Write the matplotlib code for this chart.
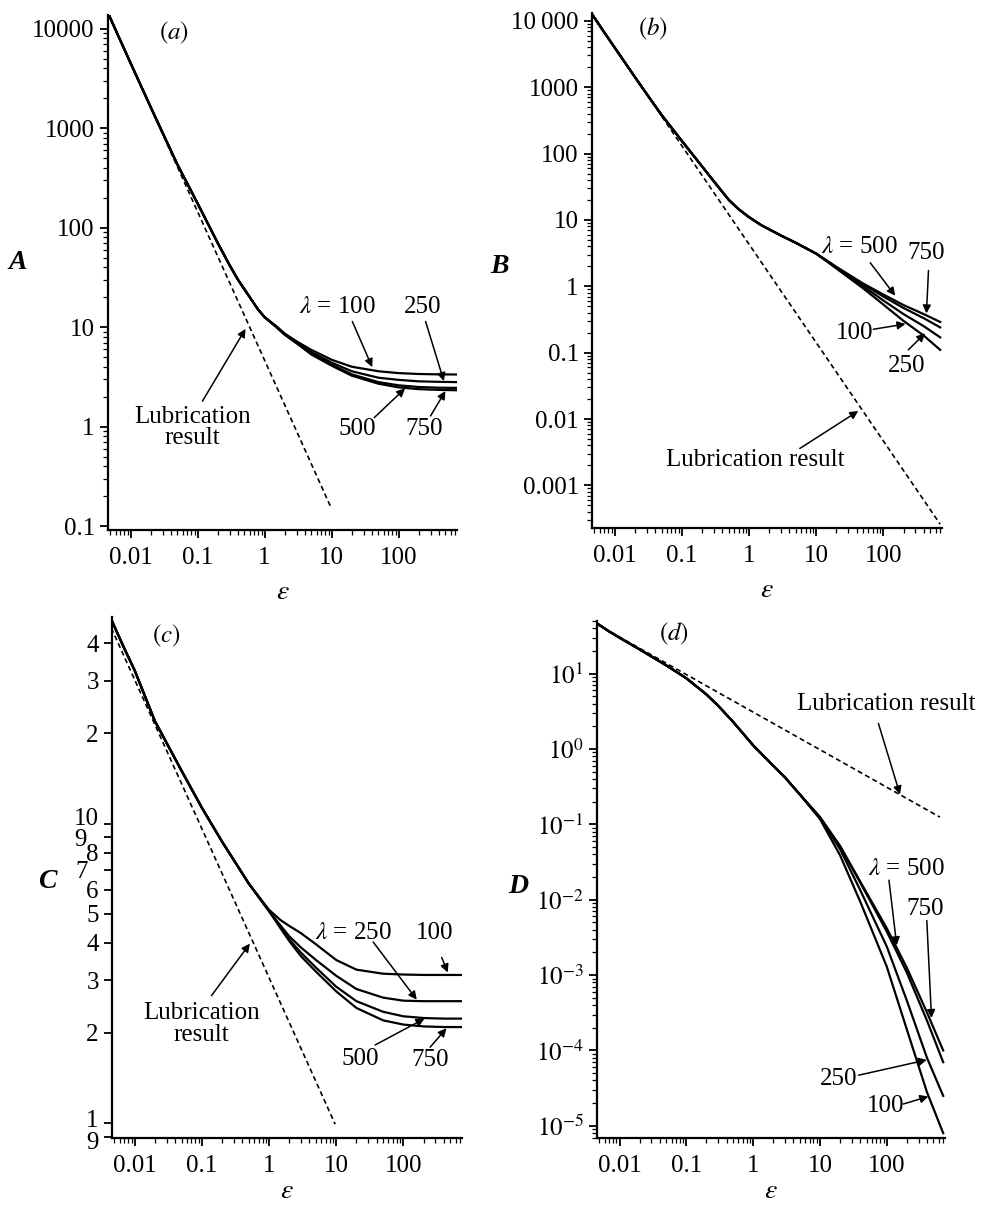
import matplotlib
matplotlib.use('Agg')
import matplotlib.pyplot as plt
import matplotlib.ticker as ticker
from matplotlib.transforms import ScaledTranslation
import numpy as np

plt.rcParams['font.family'] = ['Liberation Serif', 'DejaVu Serif']
plt.rcParams['mathtext.fontset'] = 'stix'

# ---- panel (a): A vs epsilon ----
eps_a = [0.00475, 0.007, 0.01, 0.02, 0.03, 0.05, 0.1, 0.2, 0.3, 0.4, 0.6, 0.8, 1,
         1.5, 2, 3, 5, 10, 20, 50, 100, 200, 400, 742]
A_100 = [13700, 7650, 4500, 1620, 900, 430, 175, 70, 42, 30, 20, 15, 12.6,
         10.2, 8.6, 7.2, 5.9, 4.7, 4.0, 3.6, 3.45, 3.38, 3.35, 3.34]
A_250 = [13700, 7650, 4500, 1620, 900, 430, 175, 70, 42, 30, 20, 15, 12.6,
         10.1, 8.5, 7.0, 5.6, 4.4, 3.6, 3.1, 2.95, 2.85, 2.82, 2.8]
A_500 = [13700, 7650, 4500, 1620, 900, 430, 175, 70, 42, 30, 20, 15, 12.6,
         10.0, 8.4, 6.9, 5.4, 4.2, 3.35, 2.8, 2.6, 2.5, 2.46, 2.45]
A_750 = [13700, 7650, 4500, 1620, 900, 430, 175, 70, 42, 30, 20, 15, 12.6,
         10.0, 8.4, 6.9, 5.3, 4.1, 3.25, 2.7, 2.48, 2.38, 2.34, 2.32]
lub_a_eps = [0.00475, 9.66]
lub_a = [13700, 0.157]

# ---- panel (b): B vs epsilon ----
eps_b = [0.0045, 0.007, 0.01, 0.02, 0.03, 0.05, 0.1, 0.2, 0.3, 0.5, 0.7, 1, 1.5,
         2, 3, 5, 10, 20, 50, 100, 200, 400, 700]
B_100 = [13000, 6700, 3950, 1420, 790, 380, 155, 64, 38, 20, 14.5, 11, 8.4,
         7.2, 5.8, 4.5, 3.1, 1.85, 0.93, 0.53, 0.30, 0.18, 0.11]
B_250 = [13000, 6700, 3950, 1420, 790, 380, 155, 64, 38, 20, 14.5, 11, 8.4,
         7.2, 5.8, 4.5, 3.1, 1.9, 1.0, 0.61, 0.38, 0.25, 0.17]
B_500 = [13000, 6700, 3950, 1420, 790, 380, 155, 64, 38, 20, 14.5, 11, 8.4,
         7.2, 5.8, 4.5, 3.1, 1.95, 1.07, 0.70, 0.47, 0.33, 0.24]
B_750 = [13000, 6700, 3950, 1420, 790, 380, 155, 64, 38, 20, 14.5, 11, 8.4,
         7.2, 5.8, 4.5, 3.1, 1.95, 1.1, 0.75, 0.52, 0.38, 0.29]
lub_b_eps = [0.0045, 700]
lub_b = [13000, 0.00026]

# ---- panel (c): C vs epsilon ----
eps_c = [0.0045, 0.007, 0.01, 0.02, 0.05, 0.1, 0.2, 0.5, 1, 1.5, 2, 3, 5, 10, 20,
         50, 100, 200, 400, 742]
C_100 = [48, 38.5, 32.5, 22.0, 15.0, 11.3, 8.7, 6.3, 5.15, 4.75, 4.55, 4.3, 3.95,
         3.5, 3.25, 3.15, 3.13, 3.12, 3.12, 3.12]
C_250 = [48, 38.5, 32.5, 22.0, 15.0, 11.3, 8.7, 6.3, 5.1, 4.55, 4.2, 3.85, 3.5,
         3.1, 2.8, 2.62, 2.56, 2.55, 2.55, 2.55]
C_500 = [48, 38.5, 32.5, 22.0, 15.0, 11.3, 8.7, 6.3, 5.1, 4.5, 4.1, 3.7, 3.3,
         2.85, 2.55, 2.35, 2.27, 2.24, 2.23, 2.23]
C_750 = [48, 38.5, 32.5, 22.0, 15.0, 11.3, 8.7, 6.3, 5.1, 4.45, 4.05, 3.6, 3.2,
         2.75, 2.42, 2.2, 2.13, 2.1, 2.09, 2.09]
lub_c_eps = [0.0045, 9.64]
lub_c = [45, 0.99]

# ---- panel (d): D vs epsilon ----
eps_d = [0.0045, 0.007, 0.01, 0.02, 0.05, 0.1, 0.2, 0.3, 0.5, 1, 2, 3, 5, 10, 20,
         40, 100, 200, 400, 700]
D_100 = [47, 36.3, 30, 21, 12.9, 8.7, 5.3, 3.75, 2.3, 1.12, 0.6, 0.42, 0.25,
         0.118, 0.039, 0.0095, 0.0013, 0.00019, 0.000028, 0.000008]
D_250 = [47, 36.3, 30, 21, 12.9, 8.7, 5.3, 3.75, 2.3, 1.12, 0.6, 0.42, 0.25,
         0.122, 0.047, 0.0135, 0.0024, 0.00046, 0.00008, 0.000025]
D_500 = [47, 36.3, 30, 21, 12.9, 8.7, 5.3, 3.75, 2.3, 1.12, 0.6, 0.42, 0.25,
         0.125, 0.051, 0.017, 0.0038, 0.00108, 0.00025, 0.00007]
D_750 = [47, 36.3, 30, 21, 12.9, 8.7, 5.3, 3.75, 2.3, 1.12, 0.6, 0.42, 0.25,
         0.125, 0.052, 0.0175, 0.0042, 0.00125, 0.00032, 0.0001]
lub_d_eps = [0.0045, 624]
lub_d = [45.7, 0.125]

x_ticks = [0.01, 0.1, 1, 10, 100]
x_ticklabels = ['0.01', '0.1', '1', '10', '100']
a_ticks = [0.1, 1, 10, 100, 1000, 10000]
a_ticklabels = ['0.1', '1', '10', '100', '1000', '10000']
b_ticks = [0.001, 0.01, 0.1, 1, 10, 100, 1000, 10000]
b_ticklabels = ['0.001', '0.01', '0.1', '1', '10', '100', '1000', '10\u2009000']
c_ticks = [0.9, 1, 2, 3, 4, 5, 6, 7, 8, 9, 10, 20, 30, 40]
c_ticklabels = ['9', '1', '2', '3', '4', '5', '6', '7', '8', '9', '10', '2', '3', '4']
# small shifts (points) of the crowded C labels, as in the original
c_label_shift = [(0, -3), (0, 3), (0, 0), (0, 0), (0, 0), (0, 0), (0, 0),
                 (-8, 0), (0, 0), (-9, 0), (0, 5), (0, 0), (0, 0), (0, 0)]
d_ticks = [1e-5, 1e-4, 1e-3, 1e-2, 1e-1, 1, 10]
d_ticklabels = [r'$10^{-5}$', r'$10^{-4}$', r'$10^{-3}$', r'$10^{-2}$',
                r'$10^{-1}$', r'$10^{0}$', r'$10^{1}$']

FS = 18
W = 991.0
H = 1211.0


def px_axes(fig, l, t, r, b):
    return fig.add_axes([l / W, 1 - b / H, (r - l) / W, (b - t) / H])


def style(ax, ylim, yticks, ylabels, letter, letter_pos, minor_y=True, xpad=8):
    ax.set_xscale('log')
    ax.set_yscale('log')
    ax.set_xlim(0.0046, 745)
    ax.set_ylim(*ylim)
    for s in ['top', 'right']:
        ax.spines[s].set_visible(False)
    for s in ['left', 'bottom']:
        ax.spines[s].set_linewidth(1.6)
    ax.xaxis.set_major_locator(ticker.FixedLocator(x_ticks))
    ax.xaxis.set_major_formatter(ticker.FixedFormatter(x_ticklabels))
    ax.xaxis.set_minor_locator(ticker.LogLocator(base=10, subs=np.arange(2, 10), numticks=20))
    ax.xaxis.set_minor_formatter(ticker.NullFormatter())
    ax.yaxis.set_major_locator(ticker.FixedLocator(yticks))
    ax.yaxis.set_major_formatter(ticker.FixedFormatter(ylabels))
    if minor_y:
        ax.yaxis.set_minor_locator(ticker.LogLocator(base=10, subs=np.arange(2, 10), numticks=20))
    else:
        ax.yaxis.set_minor_locator(ticker.NullLocator())
    ax.yaxis.set_minor_formatter(ticker.NullFormatter())
    ax.tick_params(which='major', direction='out', length=6, width=1.3, labelsize=FS)
    ax.tick_params(axis='x', which='major', pad=6)
    ax.tick_params(which='minor', direction='out', length=3.5, width=0.9)
    ax.set_xlabel(r'$\epsilon$', fontsize=FS + 2, labelpad=xpad)
    ax.text(letter_pos[0], letter_pos[1], letter, transform=ax.transAxes,
            fontsize=FS + 2, fontstyle='italic', fontweight='bold',
            ha='center', va='center')


def arrow(ax, xy_from, xy_to):
    ax.annotate('', xy=xy_to, xytext=xy_from,
                arrowprops=dict(arrowstyle='-|>', color='black', lw=1.1,
                                mutation_scale=12, shrinkA=0, shrinkB=0))


def curves(ax, eps, series, lub_eps, lub):
    for ys in series:
        ax.plot(eps, ys, color='black', lw=1.6, solid_joinstyle='round')
    ax.plot(lub_eps, lub, color='black', lw=1.2, ls=(0, (3, 2)))


fig = plt.figure(figsize=(9.91, 12.11), dpi=100)

# (a)
ax = px_axes(fig, 108, 15, 457, 530)
curves(ax, eps_a, [A_100, A_250, A_500, A_750], lub_a_eps, lub_a)
style(ax, (0.0914, 13700), a_ticks, a_ticklabels, 'A', (-0.26, 0.52))
ax.text(0.0443, 9140, r'$(\mathit{a})$', fontsize=FS, ha='center', va='center')
ax.text(12.2, 15.8, r'$\lambda$ = 100', fontsize=FS, ha='center', va='center')
ax.text(225, 15.8, '250', fontsize=FS, ha='center', va='center')
ax.text(24.2, 0.95, '500', fontsize=FS, ha='center', va='center')
ax.text(241, 0.95, '750', fontsize=FS, ha='center', va='center')
ax.text(0.083, 0.98, 'Lubrication\nresult', fontsize=FS, ha='center', va='center',
        linespacing=0.95)
arrow(ax, (20.4, 11.4), (40.4, 3.96))
arrow(ax, (253, 11.4), (474, 2.87))
arrow(ax, (43.3, 1.23), (125, 2.42))
arrow(ax, (300, 1.28), (500, 2.28))
arrow(ax, (0.118, 1.8), (0.52, 9.6))

# (b)
ax = px_axes(fig, 592, 13, 942, 528)
curves(ax, eps_b, [B_100, B_250, B_500, B_750], lub_b_eps, lub_b)
style(ax, (0.000228, 13100), b_ticks, b_ticklabels, 'B', (-0.263, 0.507))
ax.text(0.0373, 7640, r'$(\mathit{b})$', fontsize=FS, ha='center', va='center')
ax.text(43.8, 3.86, r'$\lambda$ = 500', fontsize=FS, ha='center', va='center')
ax.text(437, 3.2, '750', fontsize=FS, ha='center', va='center')
ax.text(37.9, 0.2, '100', fontsize=FS, ha='center', va='center')
ax.text(223, 0.064, '250', fontsize=FS, ha='center', va='center')
ax.text(1.22, 0.0024, 'Lubrication result', fontsize=FS, ha='center', va='center')
arrow(ax, (63.7, 2.26), (150, 0.72))
arrow(ax, (469, 1.73), (437, 0.39))
arrow(ax, (70.9, 0.225), (213, 0.27))
arrow(ax, (235, 0.11), (417, 0.196))
arrow(ax, (5.7, 0.0036), (42.3, 0.0132))

# (c)
ax = px_axes(fig, 112, 617, 462, 1138)
curves(ax, eps_c, [C_100, C_250, C_500, C_750], lub_c_eps, lub_c)
style(ax, (0.89, 49), c_ticks, c_ticklabels, 'C', (-0.186, 0.493), minor_y=False,
      xpad=2)
for lbl, (dx, dy) in zip(ax.get_yticklabels(), c_label_shift):
    lbl.set_transform(lbl.get_transform() +
                      ScaledTranslation(dx / 72.0, dy / 72.0, fig.dpi_scale_trans))
ax.text(0.0297, 42.3, r'$(\mathit{c})$', fontsize=FS, ha='center', va='center')
ax.text(18.3, 4.32, r'$\lambda$ = 250', fontsize=FS, ha='center', va='center')
ax.text(296, 4.32, '100', fontsize=FS, ha='center', va='center')
ax.text(22.6, 1.64, '500', fontsize=FS, ha='center', va='center')
ax.text(250, 1.62, '750', fontsize=FS, ha='center', va='center')
ax.text(0.0985, 2.14, 'Lubrication\nresult', fontsize=FS, ha='center', va='center',
        linespacing=0.95)
arrow(ax, (372, 3.57), (457, 3.18))
arrow(ax, (35.5, 4.02), (158, 2.58))
arrow(ax, (37.9, 1.82), (206, 2.23))
arrow(ax, (250, 1.79), (437, 2.07))
arrow(ax, (0.139, 2.66), (0.518, 3.97))

# (d)
ax = px_axes(fig, 597, 621, 945, 1138)
curves(ax, eps_d, [D_100, D_250, D_500, D_750], lub_d_eps, lub_d)
style(ax, (6.9e-6, 50), d_ticks, d_ticklabels, 'D', (-0.227, 0.487), xpad=2)
ax.text(0.066, 34.1, r'$(\mathit{d})$', fontsize=FS, ha='center', va='center')
ax.text(100, 3.93, 'Lubrication result', fontsize=FS, ha='center', va='center')
ax.text(197, 0.0258, r'$\lambda$ = 500', fontsize=FS, ha='center', va='center')
ax.text(373, 0.00755, '750', fontsize=FS, ha='center', va='center')
ax.text(19.1, 4.2e-5, '250', fontsize=FS, ha='center', va='center')
ax.text(95.3, 1.84e-5, '100', fontsize=FS, ha='center', va='center')
arrow(ax, (75, 2.19), (158, 0.25))
arrow(ax, (108, 0.0182), (141, 0.00249))
arrow(ax, (398, 0.0053), (468, 2.7e-4))
arrow(ax, (37.9, 4.7e-5), (398, 7.5e-5))
arrow(ax, (177, 1.95e-5), (420, 2.45e-5))

fig.savefig('out.png', dpi=100)
